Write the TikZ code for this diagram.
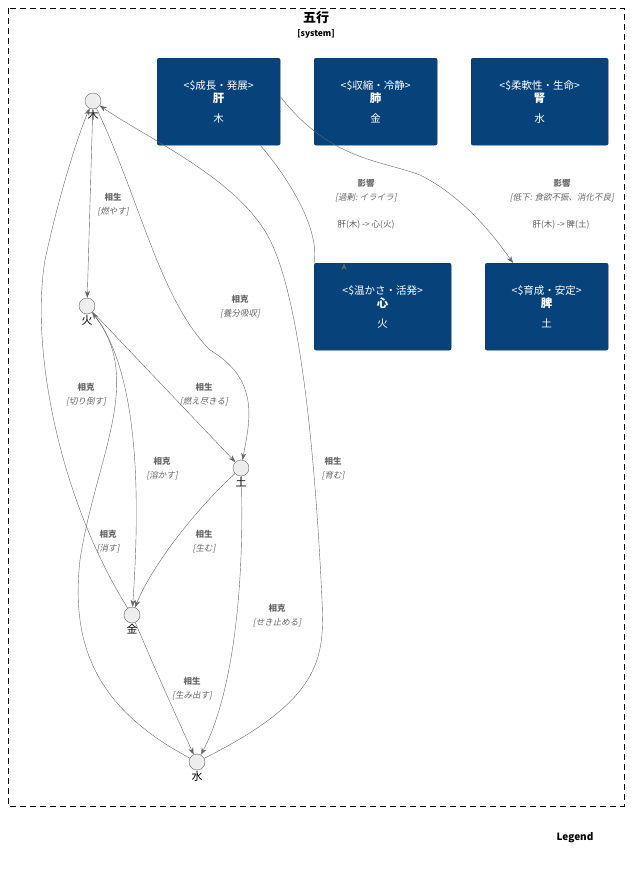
\documentclass[tikz,border=0pt]{standalone}
\usepackage{fontspec}
\setmainfont{Noto Sans CJK JP}
\newfontfamily\slantfont[FakeSlant=0.2]{Noto Sans CJK JP}
\usetikzlibrary{positioning,arrows.meta}
\definecolor{boxColor}{HTML}{08427B}
\definecolor{edgeColor}{HTML}{666666}
\tikzset{
  elementStyle/.style = {circle, draw=black!60, fill=black!7, minimum size=16pt, inner sep=0pt},
  elementText/.style = {font=\fontsize{11}{12}\selectfont, inner sep=1pt},
  organStyle/.style = {draw=boxColor!80!black, fill=boxColor, rounded corners=2pt, text=white, align=center,
    anchor=north west, inner sep=0pt, font=\fontsize{10.5}{13}\selectfont},
  relLine/.style = {draw=edgeColor, -{Stealth[length=7pt,width=5pt]}},
  relText/.style = {text=edgeColor, align=center, font=\fontsize{8.5}{14}\selectfont},
}
\newcommand{\relLabel}[4]{\node [relText] (#1) at (#2) {\textbf{#3}\\{\slantfont[#4]}};}
\newcommand{\organ}[6]{\node [organStyle, minimum width=#3pt, minimum height=87pt] (#1) at (#2)
  {\strut<\$#4>\\[-2pt]\textbf{\fontsize{11.5}{13}\selectfont #5}\\[7pt]#6};}
\begin{document}
\begin{tikzpicture}[x=1pt, y=-1pt]
  \useasboundingbox (0,0) rectangle (643,873);
  % frame
  \draw [dashed, dash pattern=on 6pt off 4pt] (8,8) rectangle (624,806);
  \node [font=\bfseries\fontsize{13}{14}\selectfont] (title) at (316,18) {五行};
  \node [font=\bfseries\fontsize{8.5}{10}\selectfont] (kind) at (316,34) {[system]};
  \node [font=\bfseries\fontsize{10}{12}\selectfont] (legend) at (575,838) {Legend};

  % organs
  \organ{kan}{157,58}{123}{成長・発展}{肝}{木}
  \organ{hai}{314,58}{123}{収縮・冷静}{肺}{金}
  \organ{jin}{471,58}{137}{柔軟性・生命}{腎}{水}
  \organ{shin}{314,263}{137}{温かさ・活発}{心}{火}
  \organ{hi}{485,263}{123}{育成・安定}{脾}{土}

  % elements
  \node [elementStyle] (moku) at (93,101) {};
  \node [elementStyle] (ka) at (87,306) {};
  \node [elementStyle] (do) at (241,468) {};
  \node [elementStyle] (kin) at (132,615) {};
  \node [elementStyle] (sui) at (197,762) {};
  \node [elementText, below=0pt of moku] (mokuText) {木};
  \node [elementText, below=0pt of ka] (kaText) {火};
  \node [elementText, below=0pt of do] (doText) {土};
  \node [elementText, below=0pt of kin] (kinText) {金};
  \node [elementText, below=0pt of sui] (suiText) {水};

  % sousei
  \draw [relLine] (moku) -- (ka);
  \draw [relLine] (ka) -- (do);
  \draw [relLine] (do) .. controls (190,515) and (150,570) .. (kin);
  \draw [relLine] (kin) .. controls (160,680) .. (sui);
  \draw [relLine] (sui) .. controls (320,700) and (325,660) .. (322,600)
    .. controls (315,450) and (300,300) .. (270,240) .. controls (240,180) and (150,140) .. (moku);
  % soukoku
  \draw [relLine] (moku) .. controls (140,200) and (160,300) .. (210,350)
    .. controls (260,380) and (250,420) .. (do);
  \draw [relLine] (kin) .. controls (60,500) and (30,350) .. (45,260)
    .. controls (60,190) and (80,130) .. (moku);
  \draw [relLine] (sui) .. controls (100,710) and (70,650) .. (80,560)
    .. controls (95,460) and (145,380) .. (ka);
  \draw [relLine] (ka) .. controls (140,370) and (140,500) .. (kin);
  \draw [relLine] (do) .. controls (245,600) and (230,700) .. (sui);
  % eikyou
  \draw [relLine] (kan.south east) ++(-20,0) .. controls (290,180) and (320,230) .. (shin.north west) ++(30,0);
  \draw [relLine] (kan.east) ++(0,-5) .. controls (330,160) and (380,160) .. (420,175)
    .. controls (460,195) and (490,230) .. (513,263);

  % labels
  \relLabel{l1}{113,205}{相生}{燃やす}
  \relLabel{l2}{240,307}{相克}{養分吸収}
  \relLabel{l3}{204,395}{相生}{燃え尽きる}
  \relLabel{l4}{86,395}{相克}{切り倒す}
  \relLabel{l5}{162,469}{相克}{溶かす}
  \relLabel{l6}{333,469}{相生}{育む}
  \relLabel{l7}{204,542}{相生}{生む}
  \relLabel{l8}{108,542}{相克}{消す}
  \relLabel{l9}{277,616}{相克}{せき止める}
  \relLabel{l10}{192,689}{相生}{生み出す}
  \relLabel{l11}{366,191}{影響}{過剰: イライラ}
  \relLabel{l12}{562,191}{影響}{低下: 食欲不振、消化不良}
  \node [relText, text=edgeColor!90!black] (l11b) at (366,225) {肝(木) -> 心(火)};
  \node [relText, text=edgeColor!90!black] (l12b) at (561,225) {肝(木) -> 脾(土)};
\end{tikzpicture}
\end{document}
